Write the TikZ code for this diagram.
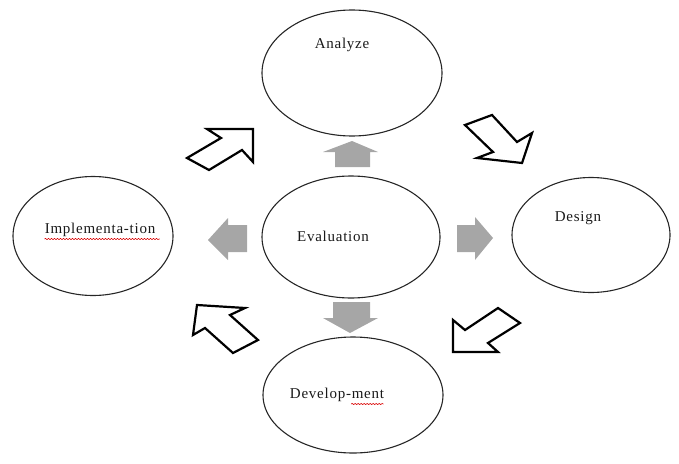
\documentclass[tikz,border=0pt]{standalone}
\usepackage{fontspec}
\setmainfont{Liberation Serif}[LetterSpace=5]
\usepackage{tikz}
\usetikzlibrary{shapes.geometric}
\usetikzlibrary{decorations.pathmorphing}

\begin{document}
\begin{tikzpicture}[line cap=round,line join=miter,x=1pt,y=-1pt,
  phase/.style={ellipse,draw=black!85,line width=1.1pt,inner sep=0pt},
  word/.style={font=\fontsize{15}{18}\selectfont,inner sep=0pt,text=black!90},
  grayarr/.style={fill=black!35,draw=none},
  openarr/.style={draw=black,line width=2.2pt,fill=white},
  squiggle/.style={draw=red!85!black,line width=0.6pt,decorate,
    decoration={snake,amplitude=0.6pt,segment length=3pt}}]
\useasboundingbox (0,0) rectangle (679,463);

%ellipsit
\node [phase,minimum width=180pt,minimum height=126pt] (analyze) at (352,73) {};
\node [phase,minimum width=178pt,minimum height=122pt] (evaluation) at (351,237) {};
\node [phase,minimum width=158pt,minimum height=115pt] (design) at (591,235) {};
\node [phase,minimum width=160pt,minimum height=119pt] (implementation) at (93,236) {};
\node [phase,minimum width=180pt,minimum height=116pt] (development) at (353,395) {};

%tekstit
\node [word] (analyze-t) at (342,45) {Analyze};
\node [word] (evaluation-t) at (333,236) {Evaluation};
\node [word] (design-t) at (578,218) {Design};
\node [word] (implementation-t) at (100,230) {Implementa-tion};
\node [word] (development-t) at (337,395) {Develop-ment};
\draw [squiggle] (implementation-t.south west) ++(0,2) -- ++(115,0);
\draw [squiggle] (development-t.south east) ++(-33,2) -- ++(32,0);

%harmaat nuolet
\draw [grayarr] (352,141) -- (378,152) -- (370,152) -- (370,167) -- (335,167)
  -- (335,152) -- (323,152) -- cycle;
\draw [grayarr] (350,333) -- (378,318) -- (370,318) -- (370,302) -- (333,302)
  -- (333,318) -- (323,318) -- cycle;
\draw [grayarr] (208,240) -- (228,218) -- (228,225) -- (247,225) -- (247,252)
  -- (228,252) -- (228,260) -- cycle;
\draw [grayarr] (493,238) -- (475,217) -- (475,225) -- (457,225) -- (457,252)
  -- (475,252) -- (475,260) -- cycle;

%avoimet nuolet
\draw [openarr] (253,129) -- (207,129) -- (221,138) -- (187,158) -- (209,170)
  -- (242,150) -- (253,162) -- cycle;
\draw [openarr] (522,163) -- (532,133) -- (517,142) -- (492,115) -- (465,125)
  -- (493,152) -- (477,158) -- cycle;
\draw [openarr] (453,352) -- (498,352) -- (488,343) -- (520,323) -- (498,308)
  -- (465,330) -- (453,320) -- cycle;
\draw [openarr] (197,305) -- (245,308) -- (230,315) -- (258,340) -- (233,353)
  -- (205,328) -- (193,335) -- cycle;
\end{tikzpicture}
\end{document}
